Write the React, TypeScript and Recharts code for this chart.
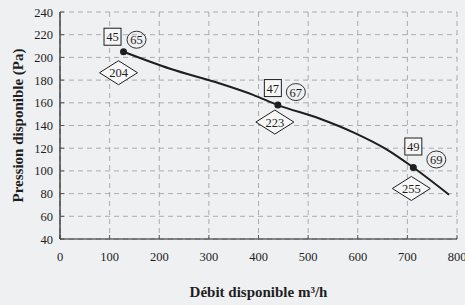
import React from "react";
import {
  CartesianGrid,
  ComposedChart,
  Line,
  Scatter,
  XAxis,
  YAxis,
} from "recharts";

// fan curve
const curveX = [128, 222, 322, 389, 439, 524, 591, 658, 712, 784];
const curveY = [205, 190, 177, 167, 158, 146, 134, 119, 103, 79];

// operating points and their tags
const pointX = [128, 439, 712];
const pointY = [205, 158, 103];
const squareTags = ["45", "47", "49"];
const circleTags = ["65", "67", "69"];
const diamondTags = ["204", "223", "255"];

const xTicks = [0, 100, 200, 300, 400, 500, 600, 700, 800];
const yTicks = [40, 60, 80, 100, 120, 140, 160, 180, 200, 220, 240];

// where each tag sits relative to its point (px)
const tagOffsets = [
  { sq: [-11, -15], ci: [13, -12], di: [-5, 21] },
  { sq: [-5, -17], ci: [18, -13], di: [-3, 17] },
  { sq: [0, -21], ci: [23, -8], di: [-2, 21] },
];

const curve = curveX.map((x, i) => ({ x, y: curveY[i] }));
const points = pointX.map((x, i) => ({
  x,
  y: pointY[i],
  i,
  sq: squareTags[i],
  ci: circleTags[i],
  di: diamondTags[i],
}));

const FONT = "Liberation Serif, Times New Roman, serif";
const INK = "#1e1e1e";

function Tagged(props: any) {
  const { cx, cy, payload } = props;
  if (cx == null || cy == null) return null;
  const o = tagOffsets[payload.i];
  const sx = cx + o.sq[0];
  const sy = cy + o.sq[1];
  const ox = cx + o.ci[0];
  const oy = cy + o.ci[1];
  const dx = cx + o.di[0];
  const dy = cy + o.di[1];
  const txt = { fontFamily: FONT, fontSize: 12.5, fill: INK, textAnchor: "middle" as const };
  return (
    <g>
      <circle cx={cx} cy={cy} r={3.5} fill={INK} />
      <rect x={sx - 8.5} y={sy - 8.5} width={17} height={17} fill="#f7f7f7" stroke={INK} strokeWidth={1} />
      <text x={sx} y={sy + 4.5} {...txt}>{payload.sq}</text>
      <ellipse cx={ox} cy={oy} rx={9.5} ry={8.5} fill="none" stroke={INK} strokeWidth={0.9} />
      <text x={ox} y={oy + 4.5} {...txt}>{payload.ci}</text>
      <polygon
        points={`${dx - 19},${dy} ${dx},${dy - 12} ${dx + 19},${dy} ${dx},${dy + 12}`}
        fill="#f7f7f7"
        stroke={INK}
        strokeWidth={1}
      />
      <text x={dx} y={dy + 4.5} {...txt}>{payload.di}</text>
    </g>
  );
}

function XTick(props: any) {
  const { x, payload } = props;
  return (
    <text x={x} y={261} textAnchor="middle" fontFamily={FONT} fontSize={12.5} fill={INK}>
      {payload.value}
    </text>
  );
}

function YTick(props: any) {
  const { y, payload } = props;
  return (
    <text x={53} y={y + 4.5} textAnchor="end" fontFamily={FONT} fontSize={12.5} fill={INK}>
      {payload.value}
    </text>
  );
}

function XTitle(props: any) {
  const vb = props.viewBox || {};
  const cx = vb.x + vb.width / 2;
  return (
    <text x={cx} y={297} textAnchor="middle" fontFamily={FONT} fontSize={15} fontWeight={700} fill={INK}>
      Débit disponible m³/h
    </text>
  );
}

function YTitle(props: any) {
  const vb = props.viewBox || {};
  const cy = vb.y + vb.height / 2;
  return (
    <text
      x={0}
      y={0}
      transform={`translate(23, ${cy}) rotate(-90)`}
      textAnchor="middle"
      fontFamily={FONT}
      fontSize={15}
      fontWeight={700}
      fill={INK}
    >
      Pression disponible (Pa)
    </text>
  );
}

export default function App() {
  return (
    <div
      style={{
        position: "fixed",
        left: 0,
        top: 0,
        width: 465,
        height: 305,
        background: "#eff0f2",
        fontFamily: FONT,
      }}
    >
      <ComposedChart
        width={465}
        height={305}
        margin={{ top: 12, right: 8, left: 0, bottom: 0 }}
      >
        <CartesianGrid stroke="#9a9a9a" strokeDasharray="5 4" strokeWidth={0.8} />
        <XAxis
          dataKey="x"
          type="number"
          domain={[0, 800]}
          ticks={xTicks}
          interval={0}
          allowDataOverflow
          height={66}
          tick={<XTick />}
          tickSize={-4}
          tickLine={{ stroke: "#555" }}
          axisLine={{ stroke: INK, strokeWidth: 1.2 }}
          label={<XTitle />}
        />
        <XAxis xAxisId="top" orientation="top" type="number" domain={[0, 800]} height={0} tick={false} tickLine={false} axisLine={{ stroke: INK, strokeWidth: 1.2 }} />
        <YAxis
          dataKey="y"
          type="number"
          domain={[40, 240]}
          ticks={yTicks}
          interval={0}
          allowDataOverflow
          width={60}
          tick={<YTick />}
          tickSize={-4}
          tickLine={{ stroke: "#555" }}
          axisLine={{ stroke: INK, strokeWidth: 1.2 }}
          label={<YTitle />}
        />
        <YAxis yAxisId="right" orientation="right" type="number" domain={[40, 240]} width={0} tick={false} tickLine={false} axisLine={{ stroke: INK, strokeWidth: 1.2 }} />
        <Line
          data={curve}
          dataKey="y"
          type="monotone"
          stroke={INK}
          strokeWidth={2}
          dot={false}
          activeDot={false}
          isAnimationActive={false}
        />
        <Scatter data={points} dataKey="y" shape={<Tagged />} isAnimationActive={false} />
      </ComposedChart>
    </div>
  );
}
